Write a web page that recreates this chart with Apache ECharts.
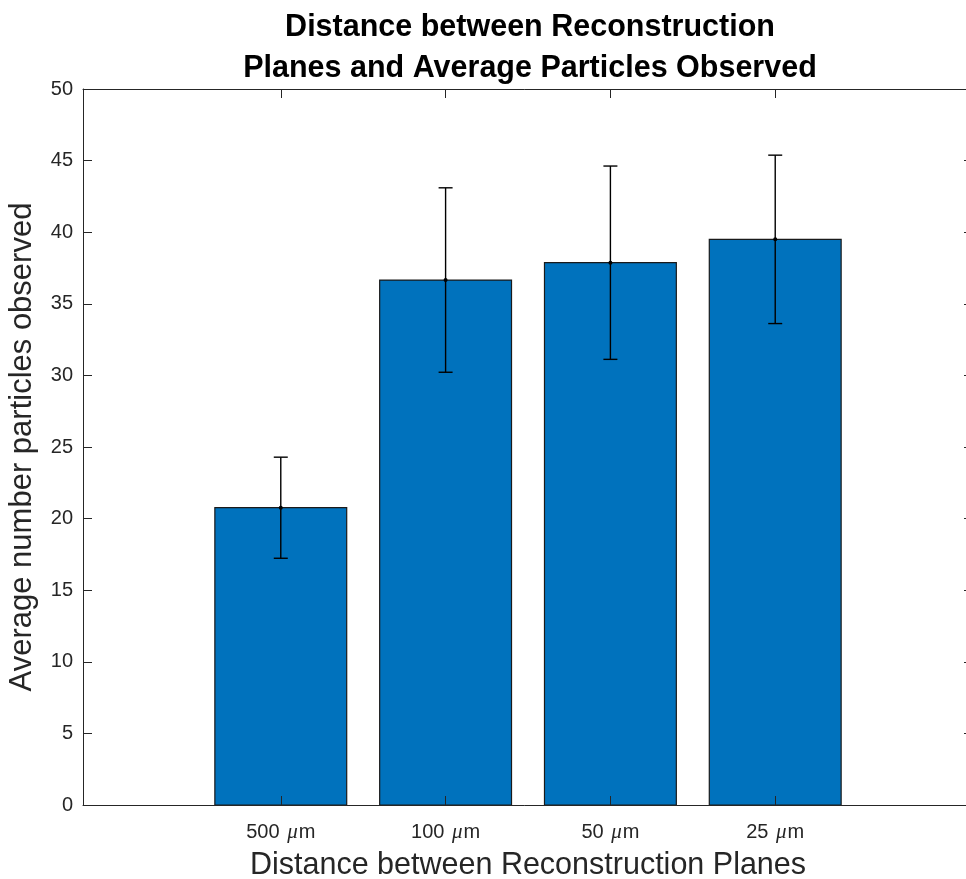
<!DOCTYPE html>
<html>
<head>
<meta charset="utf-8">
<script src="https://cdn.jsdelivr.net/npm/echarts@6/dist/echarts.min.js"></script>
<style>
  html, body { margin: 0; padding: 0; background: #ffffff; }
  #chart { width: 966px; height: 879px; }
</style>
</head>
<body>
<div id="chart"></div>
<script>
// Plane spacing (µm) shown on each bar, left to right
const categories = ['500', '100', '50', '25'];
// Bar positions on the x scale
const positions = [1, 2, 3, 4];
// Mean particle counts and their error half-widths
const means = [20.76, 36.66, 37.87, 39.50];
const errors = [3.53, 6.44, 6.75, 5.88];
// Y axis tick values
const yTicks = [0, 5, 10, 15, 20, 25, 30, 35, 40, 45, 50];

const AXIS_COLOR = '#262626';
const FONT = '"Liberation Sans", Arial, Helvetica, sans-serif';
const BAR_WIDTH = 0.8;

const barData = positions.map((p, i) => [p, means[i]]);
const errData = positions.map((p, i) => [p, means[i] - errors[i], means[i] + errors[i], means[i]]);

const chart = echarts.init(document.getElementById('chart'), null, { renderer: 'canvas' });

const tickLabel = (v) => {
  const i = positions.indexOf(v);
  return i < 0 ? '' : categories[i] + ' {mu|\u03bc}m';
};

chart.setOption({
  backgroundColor: '#ffffff',
  animation: false,
  title: {
    text: 'Distance between Reconstruction\nPlanes and Average Particles Observed',
    left: 525,
    top: 2,
    textAlign: 'center',
    textStyle: {
      fontFamily: FONT,
      fontWeight: 'bold',
      fontSize: 30.5,
      lineHeight: 41,
      color: '#000000'
    }
  },
  grid: { left: 83, top: 89, width: 890, height: 716, containLabel: false, outerBoundsMode: 'none' },
  xAxis: [
    {
      type: 'value',
      min: -0.2,
      max: 5.2,
      position: 'bottom',
      z: 10,
      name: 'Distance between Reconstruction Planes',
      nameLocation: 'middle',
      nameGap: 45,
      nameTextStyle: { fontFamily: FONT, fontSize: 30.5, color: AXIS_COLOR },
      axisLine: { show: true, onZero: false, lineStyle: { color: AXIS_COLOR, width: 1 } },
      axisTick: { show: true, inside: true, length: 9, customValues: positions, lineStyle: { color: AXIS_COLOR } },
      axisLabel: {
        show: true,
        customValues: positions,
        formatter: tickLabel,
        margin: 17,
        fontFamily: FONT,
        fontSize: 20,
        color: AXIS_COLOR,
        rich: {
          mu: { fontFamily: '"Liberation Serif", "DejaVu Serif", serif', fontStyle: 'italic', fontSize: 21, color: AXIS_COLOR, padding: [0, 1, 0, 2] }
        }
      },
      splitLine: { show: false }
    },
    {
      type: 'value',
      min: -0.2,
      max: 5.2,
      position: 'top',
      z: 10,
      axisLine: { show: true, onZero: false, lineStyle: { color: AXIS_COLOR, width: 1 } },
      axisTick: { show: true, inside: true, length: 9, customValues: positions, lineStyle: { color: AXIS_COLOR } },
      axisLabel: { show: false },
      splitLine: { show: false }
    }
  ],
  yAxis: [
    {
      type: 'value',
      min: 0,
      max: 50,
      interval: 5,
      position: 'left',
      z: 10,
      name: 'Average number particles observed',
      nameLocation: 'middle',
      nameGap: 45,
      nameTextStyle: { fontFamily: FONT, fontSize: 31, color: AXIS_COLOR },
      axisLine: { show: true, onZero: false, lineStyle: { color: AXIS_COLOR, width: 1 } },
      axisTick: { show: true, inside: true, length: 9, customValues: yTicks, lineStyle: { color: AXIS_COLOR } },
      axisLabel: { show: true, customValues: yTicks, margin: 10, fontFamily: FONT, fontSize: 20, color: AXIS_COLOR },
      splitLine: { show: false }
    },
    {
      type: 'value',
      min: 0,
      max: 50,
      interval: 5,
      position: 'right',
      z: 10,
      axisLine: { show: true, onZero: false, lineStyle: { color: AXIS_COLOR, width: 1 } },
      axisTick: { show: true, inside: true, length: 9, customValues: yTicks, lineStyle: { color: AXIS_COLOR } },
      axisLabel: { show: false },
      splitLine: { show: false }
    }
  ],
  series: [
    {
      name: 'bars',
      type: 'custom',
      xAxisIndex: 0,
      yAxisIndex: 0,
      data: barData,
      z: 2,
      renderItem: (params, api) => {
        const x = api.value(0);
        const v = api.value(1);
        const top = api.coord([x, v]);
        const base = api.coord([x, 0]);
        const w = api.size([BAR_WIDTH, 0])[0];
        return {
          type: 'rect',
          shape: { x: top[0] - w / 2, y: top[1], width: w, height: base[1] - top[1] },
          style: { fill: '#0072BD', stroke: '#1a1a1a', lineWidth: 1.2 }
        };
      }
    },
    {
      name: 'errors',
      type: 'custom',
      xAxisIndex: 0,
      yAxisIndex: 0,
      data: errData,
      z: 5,
      renderItem: (params, api) => {
        const x = api.value(0);
        const lo = api.coord([x, api.value(1)]);
        const hi = api.coord([x, api.value(2)]);
        const mid = api.coord([x, api.value(3)]);
        const cap = 7;
        const ls = { stroke: '#000000', lineWidth: 1.4 };
        return {
          type: 'group',
          children: [
            { type: 'line', shape: { x1: lo[0], y1: lo[1], x2: hi[0], y2: hi[1] }, style: ls },
            { type: 'line', shape: { x1: lo[0] - cap, y1: lo[1], x2: lo[0] + cap, y2: lo[1] }, style: ls },
            { type: 'line', shape: { x1: hi[0] - cap, y1: hi[1], x2: hi[0] + cap, y2: hi[1] }, style: ls },
            { type: 'circle', shape: { cx: mid[0], cy: mid[1], r: 2 }, style: { fill: '#000000' } }
          ]
        };
      }
    }
  ]
});
</script>
</body>
</html>
